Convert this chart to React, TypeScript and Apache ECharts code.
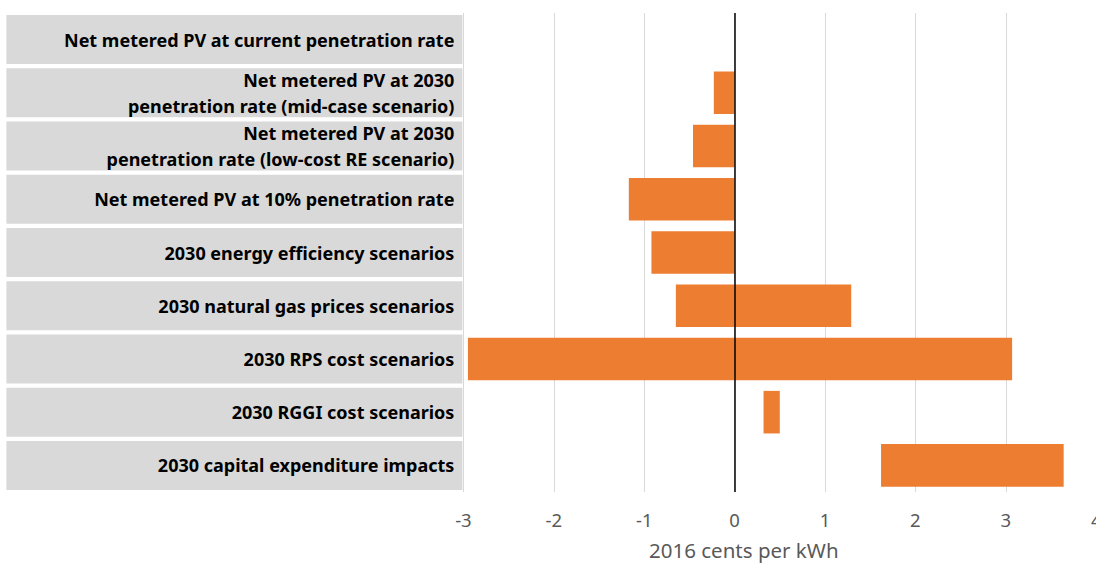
import React, { useEffect, useRef } from "react";
import * as echarts from "echarts";

const categories = [
  "Net metered PV at current penetration rate",
  "Net metered PV at 2030\npenetration rate (mid-case scenario)",
  "Net metered PV at 2030\npenetration rate (low-cost RE scenario)",
  "Net metered PV at 10% penetration rate",
  "2030 energy efficiency scenarios",
  "2030 natural gas prices scenarios",
  "2030 RPS cost scenarios",
  "2030 RGGI cost scenarios",
  "2030 capital expenditure impacts",
];
const lowValues = [0, -0.23, -0.46, -1.17, -0.92, -0.65, -2.95, 0.32, 1.62];
const highValues = [0, 0, 0, 0, 0, 1.29, 3.07, 0.5, 3.64];
const xTicks = { min: -3, max: 4, interval: 1 };
const axisTitle = "2016 cents per kWh";

const FONT = "'Noto Sans', 'Open Sans', sans-serif";

export default function App() {
  const ref = useRef<HTMLDivElement>(null);
  useEffect(() => {
    document.body.style.margin = "0";
    if (!ref.current) return;
    const chart = echarts.init(ref.current, null, { renderer: "svg" });
    const data = categories.map((_, i) => [i, lowValues[i], highValues[i]]);
    chart.setOption({
      animation: false,
      backgroundColor: "#ffffff",
      grid: {
        left: 463.4,
        right: -0.2,
        top: 13,
        bottom: 71,
        containLabel: false,
        outerBoundsMode: "none",
      },
      xAxis: {
        type: "value",
        min: xTicks.min,
        max: xTicks.max,
        interval: xTicks.interval,
        axisLine: { show: false },
        axisTick: { show: false },
        splitLine: { show: true, lineStyle: { color: "#d9d9d9", width: 1 } },
        axisLabel: {
          color: "#595959",
          fontSize: 18.5,
          fontFamily: FONT,
          margin: 18,
          showMinLabel: true,
          showMaxLabel: true,
        },
        name: axisTitle,
        nameLocation: "middle",
        nameGap: 47,
        nameTextStyle: {
          color: "#595959",
          fontSize: 20.5,
          fontFamily: FONT,
          padding: [0, 72, 0, 0],
        },
      },
      yAxis: {
        type: "category",
        inverse: true,
        data: categories,
        axisLine: { show: false },
        axisTick: { show: false },
        splitLine: { show: false },
        axisLabel: {
          interval: 0,
          margin: 1,
          color: "#000000",
          fontWeight: "bold",
          fontSize: 18,
          fontFamily: FONT,
          lineHeight: 26,
          backgroundColor: "#d9d9d9",
          width: 448,
          height: 49,
          padding: [0, 8, 0, 0],
          align: "right",
          verticalAlign: "middle",
        },
      },
      series: [
        {
          type: "custom",
          data,
          encode: { x: [1, 2], y: 0 },
          renderItem: (params: any, api: any) => {
            const idx = api.value(0);
            const lo = api.value(1);
            const hi = api.value(2);
            const p1 = api.coord([lo, idx]);
            const p2 = api.coord([hi, idx]);
            const h = api.size([0, 1])[1] * 0.8;
            return {
              type: "rect",
              shape: { x: p1[0], y: p1[1] - h / 2, width: p2[0] - p1[0], height: h },
              style: { fill: "#ed7d31" },
            };
          },
          markLine: {
            silent: true,
            symbol: "none",
            label: { show: false },
            lineStyle: { color: "#000000", width: 1.5, type: "solid" },
            data: [{ xAxis: 0 }],
          },
          z: 3,
        },
      ],
    });
    return () => chart.dispose();
  }, []);
  return <div ref={ref} style={{ width: 1096, height: 563 }} />;
}
